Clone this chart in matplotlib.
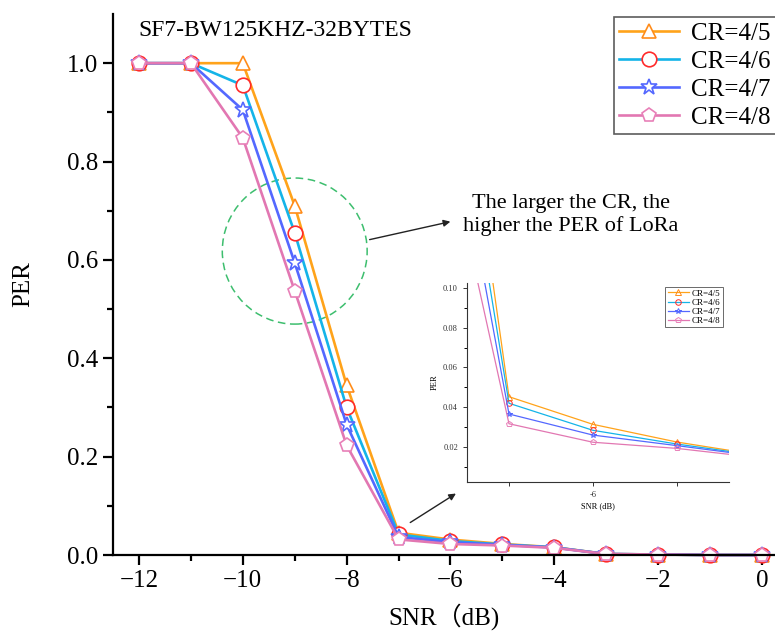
import matplotlib
matplotlib.use("Agg")
import matplotlib.pyplot as plt
from matplotlib.patches import Ellipse
from matplotlib.ticker import MultipleLocator, FixedLocator
import numpy as np

plt.rcParams['font.family'] = ['Liberation Serif', 'Noto Sans CJK SC', 'DejaVu Sans']
plt.rcParams['axes.unicode_minus'] = True

# Данные
snr = [-12, -11, -10, -9, -8, -7, -6, -5, -4, -3, -2, -1, 0]
per_45 = [1.0, 1.0, 1.0, 0.710, 0.345, 0.0453, 0.0314, 0.0225, 0.0158, 0.002, 0.001, 0.0, 0.0]
per_46 = [1.0, 1.0, 0.955, 0.655, 0.300, 0.0420, 0.0284, 0.0215, 0.0155, 0.002, 0.001, 0.0, 0.0]
per_47 = [1.0, 1.0, 0.905, 0.594, 0.265, 0.0366, 0.0260, 0.0207, 0.0152, 0.002, 0.001, 0.0, 0.0]
per_48 = [1.0, 1.0, 0.848, 0.537, 0.223, 0.0317, 0.0224, 0.0193, 0.0145, 0.002, 0.001, 0.0, 0.0]
labels = ["CR=4/5", "CR=4/6", "CR=4/7", "CR=4/8"]

line_colors = ["#FFA31A", "#14B4E8", "#5468FF", "#E277B2"]
marker_colors = ["#FF8C1A", "#FF2A2A", "#5468FF", "#E880B8"]
markers = ["^", "o", "*", "p"]
series = [per_45, per_46, per_47, per_48]

fig = plt.figure(figsize=(7.75, 6.31), dpi=100)
ax = fig.add_axes([113 / 775, 76 / 631, 662 / 775, 541 / 631])

for y, lc, mc, m, lab in zip(series, line_colors, marker_colors, markers, labels):
    ms = 12 if m == "*" else 10.5
    ax.plot(snr, y, color=lc, lw=1.9, marker=m, ms=ms, mfc="white", mec=mc,
            mew=1.2, label=lab, clip_on=False)

ax.set_xlim(-12.5, 0.25)
ax.set_ylim(0, 1.1)
ax.xaxis.set_major_locator(MultipleLocator(2))
ax.xaxis.set_minor_locator(MultipleLocator(1))
ax.yaxis.set_major_locator(FixedLocator([0, 0.2, 0.4, 0.6, 0.8, 1.0]))
ax.yaxis.set_minor_locator(FixedLocator([0.1, 0.3, 0.5, 0.7, 0.9]))
ax.yaxis.set_major_formatter(lambda v, p: f"{v:.1f}")
ax.xaxis.set_major_formatter(lambda v, p: f"\u2212{-v:.0f}" if v < 0 else f"{v:.0f}")
for s in ["top", "right"]:
    ax.spines[s].set_visible(False)
for s in ["left", "bottom"]:
    ax.spines[s].set_linewidth(1.6)
ax.tick_params(which="major", direction="out", length=7, width=1.6, labelsize=18)
ax.tick_params(which="minor", direction="out", length=4, width=1.6)
ax.set_xlabel("SNR\uff08dB)", fontsize=18, labelpad=8)
ax.set_ylabel("PER", fontsize=18, labelpad=24)

ax.text(-12.02, 1.067, "SF7-BW125KHZ-32BYTES", fontsize=17, va="center", ha="left")

leg = fig.legend(loc="upper left", bbox_to_anchor=(614 / 775, 1 - 17 / 631),
                 bbox_transform=fig.transFigure, fontsize=18, frameon=True,
                 fancybox=False, edgecolor="#333333", borderpad=0.2,
                 labelspacing=0.22, handlelength=2.4, handletextpad=0.5,
                 borderaxespad=0)
leg.get_frame().set_linewidth(1.2)

# Выделение и подписи
ax.add_patch(Ellipse((-9, 0.618), 2.79, 0.297, fill=False, ls=(0, (5, 3)),
                     lw=1.1, ec="#3DBE6E"))
ax.annotate("", xy=(-5.95, 0.679), xytext=(-7.61, 0.640),
            arrowprops=dict(arrowstyle="-|>", color="#222222", lw=1.0,
                            mutation_scale=10))
ax.text(-3.68, 0.692, "The larger the CR, the\nhigher the PER of LoRa",
        fontsize=16, ha="center", va="center", linespacing=1.2)
ax.annotate("", xy=(-5.85, 0.128), xytext=(-6.82, 0.063),
            arrowprops=dict(arrowstyle="-|>", color="#222222", lw=1.0,
                            mutation_scale=10))

# Врезка
axi = fig.add_axes([467 / 775, 149 / 631, 262 / 775, 199 / 631])
for y, lc, mc, m, lab in zip(series, line_colors, marker_colors, markers, labels):
    axi.plot(snr, y, color=lc, lw=0.9, marker=m, ms=4, mfc="none", mec=mc,
             mew=0.7, label=lab)
axi.set_xlim(-7.5, -4.38)
axi.set_ylim(0.0024, 0.1025)
axi.xaxis.set_major_locator(FixedLocator([-7, -6, -5]))
axi.xaxis.set_major_formatter(lambda v, p: "-6" if round(v) == -6 else "")
axi.yaxis.set_major_locator(FixedLocator([0.02, 0.04, 0.06, 0.08, 0.10]))
axi.yaxis.set_minor_locator(FixedLocator([0.01, 0.03, 0.05, 0.07, 0.09]))
axi.yaxis.set_major_formatter(lambda v, p: f"{v:.2f}")
for s in ["top", "right"]:
    axi.spines[s].set_visible(False)
for s in ["left", "bottom"]:
    axi.spines[s].set_linewidth(0.8)
    axi.spines[s].set_color("#333333")
axi.tick_params(which="major", direction="out", length=3, width=0.7, labelsize=6,
                colors="#333333")
axi.tick_params(which="minor", direction="out", length=2, width=0.7)
axi.set_xlabel("SNR (dB)", fontsize=6, labelpad=2)
axi.set_ylabel("PER", fontsize=6, labelpad=3)
li = axi.legend(loc="upper right", bbox_to_anchor=(723 / 775, 1 - 287 / 631),
                bbox_transform=fig.transFigure, fontsize=6.5, frameon=True,
                fancybox=False, edgecolor="#444444", borderpad=0.25,
                labelspacing=0.1, handlelength=2.3, handletextpad=0.4,
                borderaxespad=0)
li.get_frame().set_linewidth(0.7)

fig.savefig("out.png", dpi=100)
